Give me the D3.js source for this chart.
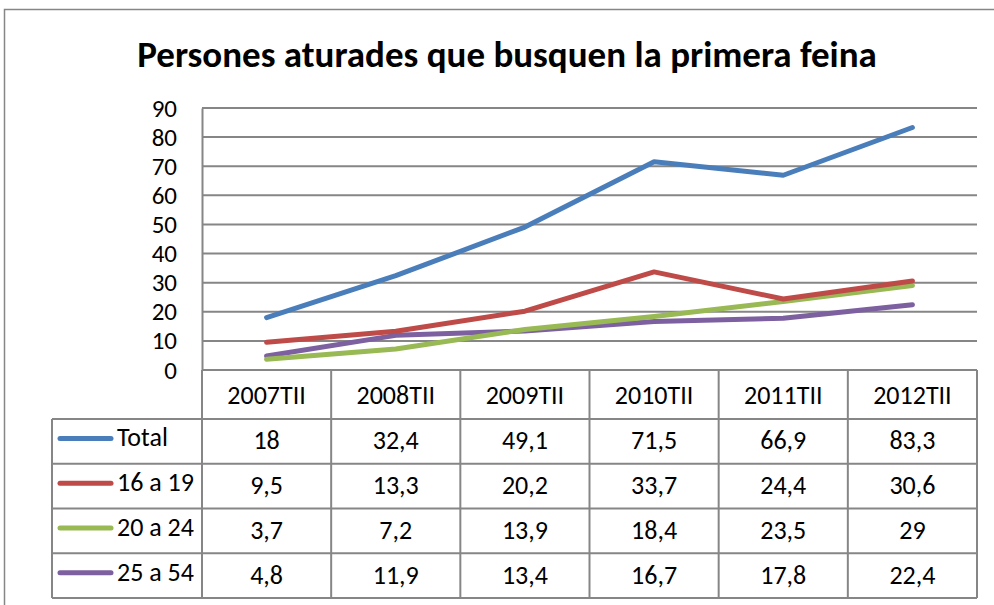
<!DOCTYPE html>
<html>
<head>
<meta charset="utf-8">
<script src="https://cdn.jsdelivr.net/npm/d3@7"></script>
<style>
  body { margin: 0; background: #fff; }
  svg { display: block; font-family: Carlito, Lato, "Open Sans", sans-serif; }
</style>
</head>
<body>
<svg id="plot"></svg>
<script>
const categories = ["2007TII", "2008TII", "2009TII", "2010TII", "2011TII", "2012TII"];
const seriesNames = ["Total", "16 a 19", "20 a 24", "25 a 54"];
const seriesLabels = [
    ["18", "32,4", "49,1", "71,5", "66,9", "83,3"],
    ["9,5", "13,3", "20,2", "33,7", "24,4", "30,6"],
    ["3,7", "7,2", "13,9", "18,4", "23,5", "29"],
    ["4,8", "11,9", "13,4", "16,7", "17,8", "22,4"]
];
const seriesColors = ["#4a7ebb", "#be4b48", "#98b954", "#7d60a0"];
const yTicks = [0, 10, 20, 30, 40, 50, 60, 70, 80, 90];

const series = seriesNames.map((name, i) => ({
    name,
    color: seriesColors[i],
    values: seriesLabels[i].map((s) => +s.replace(",", "."))
}));

const W = 994, H = 605;
const plot = { left: 202, right: 977, top: 108, bottom: 370 };
const table = { left: 52, headBottom: 419, bottom: 598 };
const grid = "#868686";
const fs = 26;

const svg = d3.select("#plot").attr("width", W).attr("height", H);

// outer chart border
svg.append("rect")
    .attr("x", 4.5).attr("y", 9.5)
    .attr("width", 1000).attr("height", 1000)
    .attr("fill", "none").attr("stroke", "#868686").attr("stroke-width", 1.5);

svg.append("text")
    .attr("x", 507).attr("y", 67)
    .attr("text-anchor", "middle")
    .attr("font-size", 37).attr("font-weight", "bold")
    .text("Persones aturades que busquen la primera feina");

const xScale = d3.scaleBand().domain(categories).range([plot.left, plot.right]);
const yScale = d3.scaleLinear().domain([0, 90]).range([plot.bottom, plot.top]);

// gridlines
svg.append("g")
    .selectAll("line")
    .data(yTicks.slice(1))
    .join("line")
    .attr("x1", plot.left).attr("x2", plot.right)
    .attr("y1", (d) => yScale(d)).attr("y2", (d) => yScale(d))
    .attr("stroke", grid).attr("stroke-width", 2);

// y axis
const yAxis = d3.axisLeft(yScale).tickValues(yTicks).tickSize(0).tickPadding(25);
const gy = svg.append("g").attr("transform", `translate(${plot.left},0)`).call(yAxis);
gy.attr("font-family", null).attr("font-size", 25);
gy.select(".domain").attr("stroke", grid).attr("stroke-width", 2);
gy.selectAll("text").attr("fill", "#000");

// table rows
const rowScale = d3.scaleBand().domain(seriesNames).range([table.headBottom, table.bottom]);

const tg = svg.append("g").attr("stroke", grid).attr("stroke-width", 2).attr("fill", "none");
tg.append("line").attr("x1", plot.left).attr("x2", plot.right)
    .attr("y1", plot.bottom).attr("y2", plot.bottom);
tg.selectAll(".hrow")
    .data(seriesNames)
    .join("line")
    .attr("x1", table.left).attr("x2", plot.right)
    .attr("y1", (d) => rowScale(d)).attr("y2", (d) => rowScale(d));
tg.append("line").attr("x1", table.left).attr("x2", plot.right)
    .attr("y1", table.bottom).attr("y2", table.bottom);
const vx = categories.map((c) => xScale(c)).concat([plot.right]);
tg.selectAll(".vcol")
    .data(vx)
    .join("line")
    .attr("x1", (d) => d).attr("x2", (d) => d)
    .attr("y1", plot.bottom).attr("y2", table.bottom);
tg.append("line").attr("x1", table.left).attr("x2", table.left)
    .attr("y1", table.headBottom).attr("y2", table.bottom);

// header labels
svg.append("g")
    .selectAll("text")
    .data(categories)
    .join("text")
    .attr("x", (d) => xScale(d) + xScale.bandwidth() / 2)
    .attr("y", (plot.bottom + table.headBottom) / 2 + 9)
    .attr("text-anchor", "middle")
    .attr("font-size", fs)
    .text((d) => d);

// legend cells + values
const rows = svg.append("g")
    .selectAll("g")
    .data(series)
    .join("g")
    .attr("transform", (d) => `translate(0,${rowScale(d.name) + rowScale.bandwidth() / 2})`);

rows.append("line")
    .attr("x1", 60).attr("x2", 111).attr("y1", -3).attr("y2", -3)
    .attr("stroke", (d) => d.color).attr("stroke-width", 5).attr("stroke-linecap", "round");
rows.append("text")
    .attr("x", 117).attr("y", 5)
    .attr("font-size", fs)
    .text((d) => d.name);
rows.selectAll(".val")
    .data((d, i) => seriesLabels[i])
    .join("text")
    .attr("x", (d, j) => xScale(categories[j]) + xScale.bandwidth() / 2)
    .attr("y", 8)
    .attr("text-anchor", "middle")
    .attr("font-size", fs)
    .text((d) => d);

// lines
const line = d3.line()
    .x((d, i) => xScale(categories[i]) + xScale.bandwidth() / 2)
    .y((d) => yScale(d));

svg.append("g")
    .selectAll("path")
    .data(series.slice().reverse())
    .join("path")
    .attr("d", (d) => line(d.values))
    .attr("fill", "none")
    .attr("stroke", (d) => d.color)
    .attr("stroke-width", 5)
    .attr("stroke-linecap", "round")
    .attr("stroke-linejoin", "round");
</script>
</body>
</html>
